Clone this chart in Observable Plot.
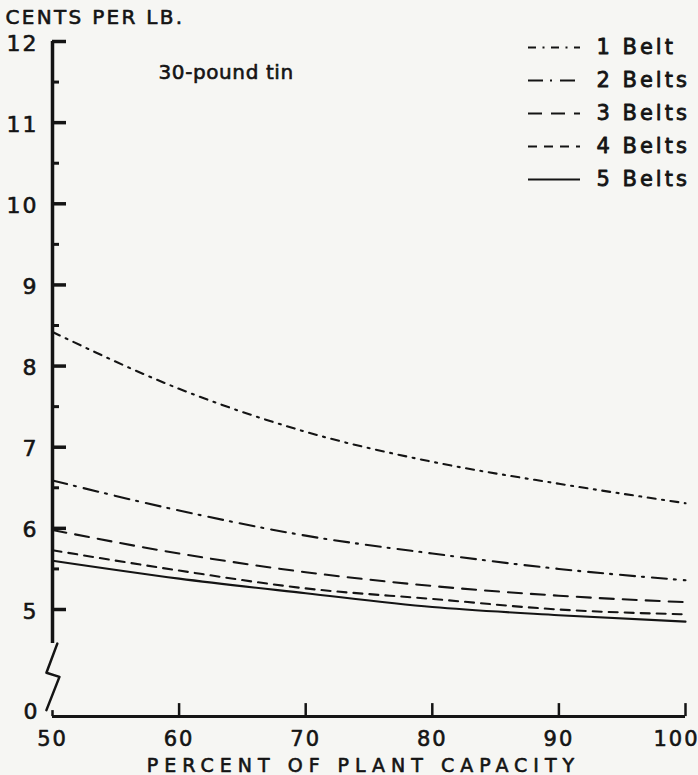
<!DOCTYPE html>
<html>
<head>
<meta charset="utf-8">
<script src="https://cdn.jsdelivr.net/npm/d3@7"></script>
<script src="https://cdn.jsdelivr.net/npm/@observablehq/plot@0.6"></script>
<style>
  html, body { margin: 0; padding: 0; background: #f6f6f3; }
  #chart { position: relative; width: 698px; height: 775px; }
  #legend { position: absolute; left: 508px; top: 29px; }
  svg text { font-family: "DejaVu Sans", sans-serif; }
</style>
</head>
<body>
<div id="chart"><div id="legend"></div></div>
<script>
// ---- data ----
const capacity = [50, 60, 70, 80, 90, 100];           // percent of plant capacity
const belt1 = [8.42, 7.72, 7.19, 6.82, 6.55, 6.31];   // cents per lb
const belt2 = [6.59, 6.22, 5.91, 5.69, 5.50, 5.36];
const belt3 = [5.98, 5.69, 5.46, 5.29, 5.17, 5.09];
const belt4 = [5.73, 5.48, 5.26, 5.13, 5.00, 4.94];
const belt5 = [5.60, 5.38, 5.20, 5.03, 4.93, 4.85];
const seriesNames = ["1 Belt", "2 Belts", "3 Belts", "4 Belts", "5 Belts"];
const xTicks = [50, 60, 70, 80, 90, 100];
const yMajorTicks = [5, 6, 7, 8, 9, 10, 11, 12];
const yMinorTicks = [5.5, 6.5, 7.5, 8.5, 9.5, 10.5, 11.5];
const yLabels = [5, 6, 7, 8, 9, 10, 11, 12];
const zeroLabel = "0";
const yTitle = "CENTS PER LB.";
const xTitle = "PERCENT OF PLANT CAPACITY";
const note = "30-pound tin";

// broken axis: the scale runs 5..12; below 5 the axis is cut and the
// baseline (labelled 0) sits a little lower on the page.
const axisBottom = 4.58;     // where the vertical axis line stops
const baseline = 3.68;       // scale position used for the "0" baseline
const breakMark = [
  {x: 50.38, y: 4.58}, {x: 49.52, y: 4.22}, {x: 50.55, y: 4.17}, {x: 49.52, y: 3.76}
];

// ---- styling ----
const ink = "#141414";
const dashes = ["8,6.5,2,6.5", "15,7,2,8", "14,9", "9,7", null];
const allSeries = [belt1, belt2, belt3, belt4, belt5];

const rows = [];
allSeries.forEach((vals, s) => vals.forEach((v, i) => rows.push({series: seriesNames[s], x: capacity[i], y: v})));

const seriesMarks = seriesNames.map((name, s) =>
  Plot.line(rows.filter(d => d.series === name), {
    x: "x", y: "y", curve: "monotone-x",
    stroke: ink, strokeWidth: 2.1,
    strokeDasharray: dashes[s] || undefined
  })
);

const txt = {fill: ink, stroke: ink, strokeWidth: 0.6};

const chart = Plot.plot({
  width: 698,
  height: 775,
  margin: 0,
  x: {domain: [50, 100], range: [52, 685], axis: null},
  y: {domain: [5, 12], range: [609, 41], axis: null},
  style: {background: "transparent", color: ink, fontFamily: "DejaVu Sans"},
  marks: [
    // y axis
    Plot.ruleX([50], {y1: axisBottom, y2: 12, stroke: ink, strokeWidth: 3.5}),
    Plot.ruleY(yMajorTicks, {y: d => d, x1: 50, x2: 50, insetRight: -14, stroke: ink, strokeWidth: 3.5}),
    Plot.ruleY(yMinorTicks, {y: d => d, x1: 50, x2: 50, insetRight: -7, stroke: ink, strokeWidth: 3}),
    Plot.line(breakMark, {x: "x", y: "y", stroke: ink, strokeWidth: 2.5}),
    Plot.text(yLabels, {x: 50, y: d => d, text: d => String(d), dx: -14, dy: 2, textAnchor: "end",
      fontSize: 22, ...txt}),
    Plot.text([zeroLabel], {x: 50, y: baseline, text: d => d, dx: -13, dy: -5, textAnchor: "end",
      fontSize: 22, ...txt}),
    // x axis
    Plot.ruleY([baseline], {x1: 50, x2: 100, stroke: ink, strokeWidth: 3}),
    Plot.ruleX(xTicks.slice(1), {x: d => d, y1: baseline, y2: baseline, insetTop: -13, stroke: ink, strokeWidth: 2.5}),
    Plot.ruleX(xTicks.slice(0, 1), {x: d => d, y1: baseline, y2: baseline, insetTop: -6, stroke: ink, strokeWidth: 2.5}),
    Plot.text(xTicks, {x: d => d, y: baseline, text: d => String(d), dy: 23, fontSize: 21, ...txt}),
    // titles
    Plot.text([xTitle], {frameAnchor: "bottom", text: d => d, dx: 14, dy: -10, lineAnchor: "middle",
      fontSize: 19, ...txt}),
    Plot.text([yTitle], {frameAnchor: "top-left", text: d => d, dx: 5, dy: 17, lineAnchor: "middle",
      textAnchor: "start", fontSize: 20, ...txt}),
    Plot.text([note], {frameAnchor: "top-left", text: d => d, dx: 158, dy: 72, lineAnchor: "middle",
      textAnchor: "start", fontSize: 20, ...txt}),
    // series
    ...seriesMarks
  ]
});
document.getElementById("chart").prepend(chart);

// letter spacing for the lettering-style text
const svgText = d3.select(chart).selectAll("text");
svgText.style("letter-spacing", "2px");
svgText.filter(function () { return this.textContent === xTitle; }).style("letter-spacing", "6px");
svgText.filter(function () { return this.textContent === yTitle; }).style("letter-spacing", "2.3px");
svgText.filter(function () { return this.textContent === note; }).style("letter-spacing", "0.6px");
svgText.filter(function () { return this.textContent === "100"; }).attr("text-anchor", "end").attr("dx", 14);

// ---- legend ----
const legend = Plot.plot({
  width: 190,
  height: 170,
  margin: 0,
  x: {domain: [0, 1], range: [20, 72], axis: null},
  y: {type: "point", domain: seriesNames, range: [18, 150], padding: 0, axis: null},
  style: {background: "transparent", color: ink, fontFamily: "DejaVu Sans"},
  marks: [
    ...seriesNames.map((name, s) =>
      Plot.ruleY([name], {y: d => d, x1: 0, x2: 1, stroke: ink, strokeWidth: 2.1,
        strokeDasharray: dashes[s] || undefined})
    ),
    Plot.text(seriesNames, {x: 1, y: d => d, text: d => d, dx: 16, textAnchor: "start",
      fontSize: 21, fill: ink, stroke: ink, strokeWidth: 0.8})
  ]
});
d3.select(legend).selectAll("text").style("letter-spacing", "3px");
document.getElementById("legend").append(legend);
</script>
</body>
</html>
